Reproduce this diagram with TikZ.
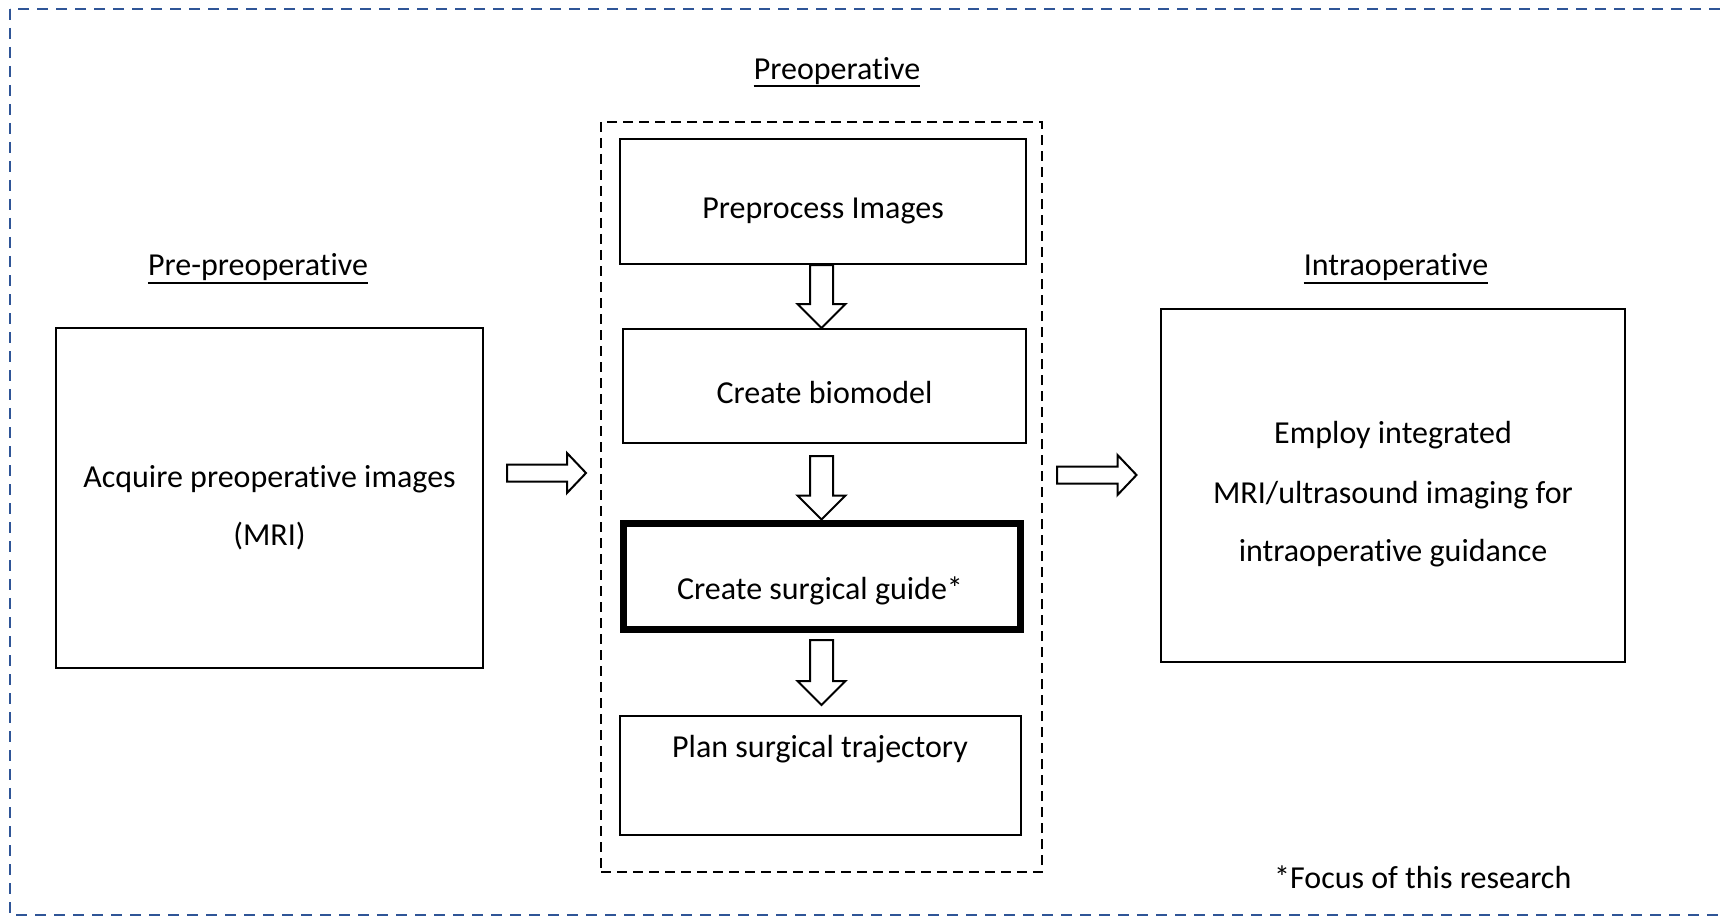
\documentclass[tikz,border=0pt]{standalone}
\usepackage{fontspec}
\setmainfont{Carlito}[Ligatures={NoCommon}]
\usetikzlibrary{calc}
\definecolor{frameblue}{RGB}{47,85,151}

% hollow block arrow pointing down: #1 = top centre, #2 = tip
\newcommand\hollowdown[2]{%
  \draw[blockarr] ($(#1)+(-11.5,0)$) -- ($(#2)+(-11.5,-24)$) -- ($(#2)+(-24,-24)$)
    -- (#2) -- ($(#2)+(24,-24)$) -- ($(#2)+(11.5,-24)$) -- ($(#1)+(11.5,0)$) -- cycle;}
% hollow block arrow pointing right: #1 = tail centre, #2 = tip
\newcommand\hollowright[2]{%
  \draw[blockarr] ($(#1)+(0,-8.5)$) -- ($(#2)+(-19,-8.5)$) -- ($(#2)+(-19,-20)$)
    -- (#2) -- ($(#2)+(-19,20)$) -- ($(#2)+(-19,8.5)$) -- ($(#1)+(0,8.5)$) -- cycle;}

\begin{document}
\begin{tikzpicture}[x=1pt,y=-1pt,
  box/.style={draw, line width=2pt, rectangle, inner sep=0pt},
  txt/.style={anchor=base, inner sep=0pt, font=\fontsize{32}{38}\selectfont},
  blockarr/.style={draw, line width=2pt, fill=white, line join=miter},
  heading/.style={txt},
]
\useasboundingbox (0,0) rectangle (1720,917);

% outer frame (its right side runs past the page edge)
\draw[frameblue, line width=2.2pt, dash pattern=on 11pt off 8pt] (10,9) rectangle (1745,915);

% phase headings
\node[heading] (hpre)   at (258,276)  {Pre-preoperative};
\node[heading] (hop)    at (837,80)   {Preoperative};
\node[heading] (hintra) at (1396,276) {Intraoperative};
\foreach \h in {hpre,hop,hintra}
  \draw[line width=2pt] ([yshift=-6.5pt]\h.base west) -- ([yshift=-6.5pt]\h.base east);

% preoperative group
\node[draw, line width=2pt, dash pattern=on 10pt off 6pt, minimum width=441pt, minimum height=750pt, inner sep=0pt]
  (group) at (821.5,497) {};

% boxes
\node[box, minimum width=427pt, minimum height=340pt] (acq)   at (269.5,498)  {};
\node[box, minimum width=406pt, minimum height=125pt] (prep)  at (823,201.5)  {};
\node[box, minimum width=403pt, minimum height=114pt] (bio)   at (824.5,386)  {};
\node[box, line width=7pt, minimum width=397pt, minimum height=106pt] (guide) at (821.5,576) {};
\node[box, minimum width=401pt, minimum height=119pt] (plan)  at (820,775.5)  {};
\node[box, minimum width=464pt, minimum height=353pt] (emp)   at (1392.5,485) {};

% box texts
\node[txt] (acqA) at (269.5,487) {Acquire preoperative images};
\node[txt] (acqB) at (269.5,545) {(MRI)};
\node[txt] (prepT) at (823,219)  {Preprocess Images};
\node[txt] (bioT)  at (824.5,403) {Create biomodel};
\node[txt] (guideT) at (820,599) {Create surgical guide*};
\node[txt] (planT) at (820,757)  {Plan surgical trajectory};
\node[txt] (empA) at (1393,443) {Employ integrated};
\node[txt] (empB) at (1393,503) {MRI/ultrasound imaging for};
\node[txt] (empC) at (1393,561) {intraoperative guidance};

% footnote
\node[txt, anchor=base west] (note) at (1274,888) {*Focus of this research};

% arrows between the stages
\coordinate (d1s) at (prep.south -| guide.center);
\coordinate (d1e) at (bio.north -| guide.center);
\coordinate (d2s) at ($(bio.south -| guide.center)+(0,12)$);
\coordinate (d2e) at (guide.north);
\coordinate (d3s) at ($(guide.south)+(0,7.5)$);
\coordinate (d3e) at ($(plan.north -| guide.center)+(0,-10)$);
\hollowdown{d1s}{d1e}
\hollowdown{d2s}{d2e}
\hollowdown{d3s}{d3e}

\coordinate (r1s) at ($(acq.east |- 0,473)+(23,0)$);
\coordinate (r1e) at ($(group.west |- 0,473)+(-14,0)$);
\coordinate (r2s) at ($(group.east |- 0,475)+(14,0)$);
\coordinate (r2e) at ($(emp.west |- 0,475)+(-23,0)$);
\hollowright{r1s}{r1e}
\hollowright{r2s}{r2e}
\end{tikzpicture}
\end{document}
